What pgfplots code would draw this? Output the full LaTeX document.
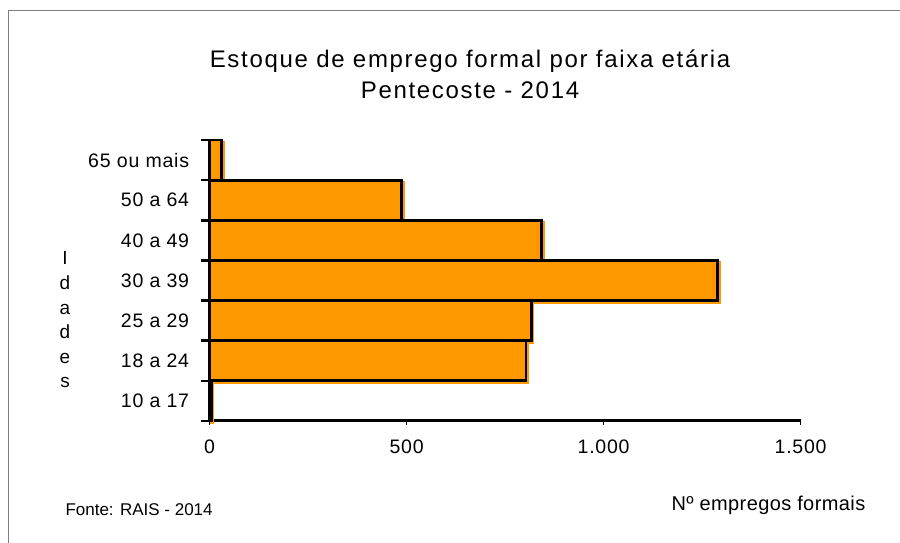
\documentclass[border=0pt]{standalone}
\usepackage{fontspec}
\setmainfont{Liberation Sans}
\usepackage{pgfplots}
\pgfplotsset{compat=1.18}
\definecolor{barorange}{HTML}{FF9900}
\definecolor{framegray}{HTML}{7F7F7F}
\begin{document}
\begin{tikzpicture}[x=1bp,y=1bp]
\path[use as bounding box] (0,0) rectangle (900,543);
\draw[framegray, line width=1.5bp] (8.5,0) -- (8.5,532.5) -- (900,532.5);
% title
\node[anchor=base, font=\fontsize{24bp}{28bp}\selectfont\addfontfeature{LetterSpace=7}] at (470,475) {Estoque de emprego formal por faixa etária};
\node[anchor=base, font=\fontsize{24bp}{28bp}\selectfont\addfontfeature{LetterSpace=7}] at (470,444) {Pentecoste - 2014};
% vertical axis label
\foreach \l [count=\i from 0] in {I,d,a,d,e,s}
  \node[anchor=base, font=\fontsize{19bp}{22bp}\selectfont] at (65,{278-24.6*\i}) {\l};
\node[anchor=base west, font=\fontsize{17bp}{20bp}\selectfont] at (62,27) {Fonte: RAIS - 2014};
\node[anchor=base west, font=\fontsize{20bp}{24bp}\selectfont\addfontfeature{LetterSpace=2}] at (668,32) {Nº empregos formais};
\begin{axis}[
  at={(209.6bp,122bp)}, anchor=south west,
  scale only axis, width=591bp, height=281bp,
  xmin=0, xmax=1500, ymin=-0.5, ymax=6.5,
  clip=false,
  axis x line*=bottom, axis y line*=left,
  axis line style={line width=3bp, black},
  xtick={0,500,1000,1500},
  scaled x ticks=false,
  /pgf/number format/.cd, assume math mode=true, 1000 sep={.}, /pgfplots/.cd,
  tick align=outside,
  major tick length=4bp,
  minor tick length=9bp,
  xtick style={line width=1.5bp, black},
  ytick={0,...,6},
  yticklabels={10 a 17,18 a 24,25 a 29,30 a 39,40 a 49,50 a 64,65 ou mais},
  minor ytick={-0.5,0.5,...,6.5},
  major y tick style={draw=none},
  minor y tick style={line width=2.5bp, black},
  ticklabel style={font=\fontsize{19.5bp}{22bp}\selectfont\addfontfeature{LetterSpace=4}},
  xticklabel style={yshift=-11bp},
  yticklabel style={xshift=-13bp},
]
\addplot[xbar, bar width=1, bar shift=0, fill=barorange, draw=barorange, line width=2.5bp, xshift=2bp, yshift=-2bp]
  coordinates {(4,0) (803,1) (816,2) (1290,3) (843,4) (488,5) (31,6)};
\addplot[xbar, bar width=1, bar shift=0, fill=barorange, draw=black, line width=2.8bp]
  coordinates {(4,0) (803,1) (816,2) (1290,3) (843,4) (488,5) (31,6)};
\end{axis}
\end{tikzpicture}
\end{document}
